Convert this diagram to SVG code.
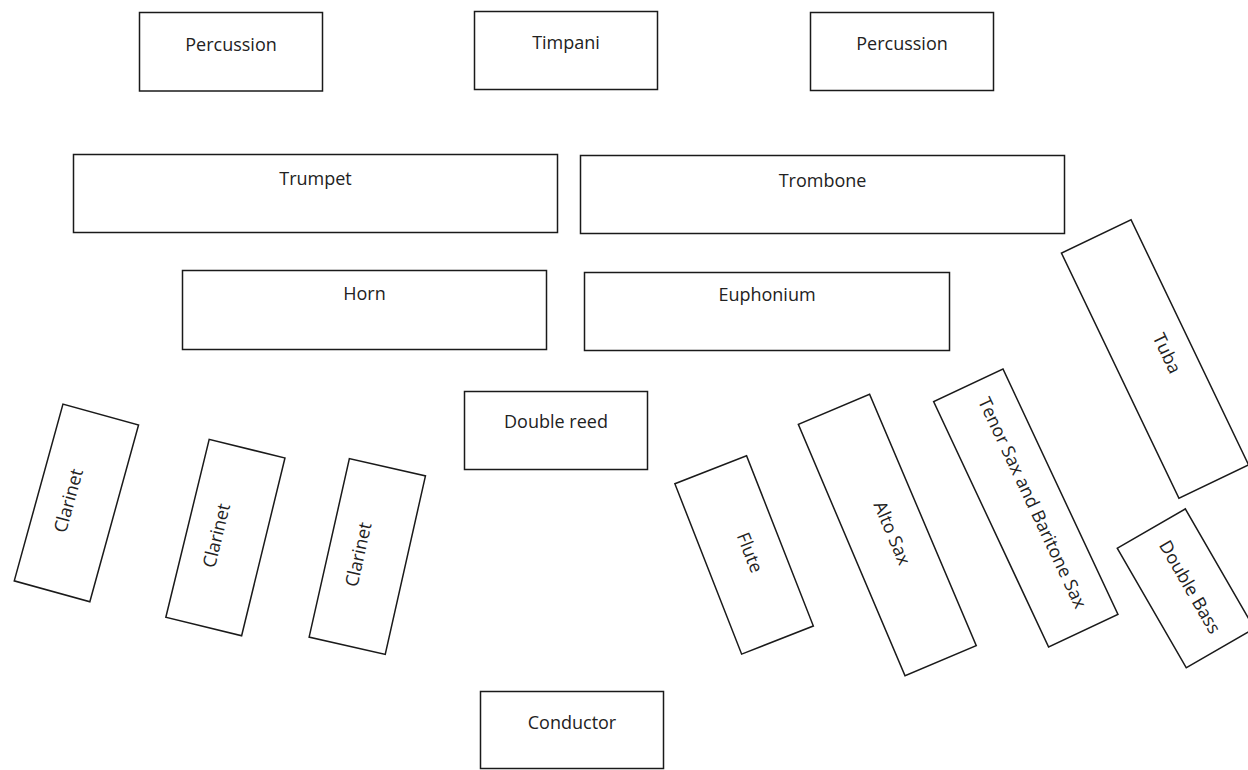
<svg xmlns="http://www.w3.org/2000/svg" width="1248" height="770" viewBox="0 0 1248 770">
<style>
  .box { fill: #ffffff; stroke: #1a1a1a; stroke-width: 1.5; }
  .lbl { font-family: "Open Sans", "Noto Sans", "DejaVu Sans", sans-serif; font-size: 18px; fill: #222222; text-anchor: middle; }
</style>
<rect x="0" y="0" width="1248" height="770" fill="#ffffff"/>
<g id="nodes">
  <g id="percussion-left"><rect class="box" x="139.5" y="12.5" width="183" height="78.5"/><text class="lbl" x="231" y="50.5">Percussion</text></g>
  <g id="timpani"><rect class="box" x="474.5" y="11.5" width="183" height="78"/><text class="lbl" x="566" y="49">Timpani</text></g>
  <g id="percussion-right"><rect class="box" x="810.5" y="12.5" width="183" height="78"/><text class="lbl" x="902" y="50">Percussion</text></g>
  <g id="trumpet"><rect class="box" x="73.5" y="154.5" width="484" height="78"/><text class="lbl" x="315.5" y="185">Trumpet</text></g>
  <g id="trombone"><rect class="box" x="580.5" y="155.5" width="484" height="78"/><text class="lbl" x="822.5" y="186.5">Trombone</text></g>
  <g id="horn"><rect class="box" x="182.5" y="270.5" width="364" height="79"/><text class="lbl" x="364.5" y="299.5">Horn</text></g>
  <g id="euphonium"><rect class="box" x="584.5" y="272.5" width="365" height="78"/><text class="lbl" x="767" y="300.5">Euphonium</text></g>
  <g id="double-reed"><rect class="box" x="464.5" y="391.5" width="183" height="78"/><text class="lbl" x="556" y="428">Double reed</text></g>
  <g id="conductor"><rect class="box" x="480.5" y="691.5" width="183" height="77"/><text class="lbl" x="572" y="728.5">Conductor</text></g>

  <g id="clarinet-1" transform="translate(76.4,502.9) rotate(-74.6)"><rect class="box" x="-91.7" y="-39.2" width="183.4" height="78.4"/><text class="lbl" x="0" y="-2">Clarinet</text></g>
  <g id="clarinet-2" transform="translate(225.4,537.6) rotate(-76.3)"><rect class="box" x="-91.5" y="-39" width="183" height="78"/><text class="lbl" x="0" y="-3">Clarinet</text></g>
  <g id="clarinet-3" transform="translate(367.3,556.5) rotate(-77.3)"><rect class="box" x="-91.5" y="-39" width="183" height="78"/><text class="lbl" x="0" y="-3">Clarinet</text></g>
  <g id="flute" transform="translate(744.1,554.9) rotate(68.6)"><rect class="box" x="-91.5" y="-38.5" width="183" height="77"/><text class="lbl" x="0" y="0">Flute</text></g>
  <g id="alto-sax" transform="translate(887.3,535) rotate(67)"><rect class="box" x="-136.5" y="-38.7" width="273" height="77.4"/><text class="lbl" x="0" y="1">Alto Sax</text></g>
  <g id="tenor-baritone-sax" transform="translate(1025.8,508) rotate(64.9)"><rect class="box" x="-135.5" y="-38.3" width="271" height="76.6"/><text class="lbl" x="-2" y="-2">Tenor Sax and Baritone Sax</text></g>
  <g id="tuba" transform="translate(1155,359) rotate(64.4)"><rect class="box" x="-136" y="-38.6" width="272" height="77.2"/><text class="lbl" x="0" y="-7">Tuba</text></g>
  <g id="double-bass" transform="translate(1185.8,588.3) rotate(60)"><rect class="box" x="-69" y="-39.3" width="138" height="78.6"/><text class="lbl" x="1" y="2">Double Bass</text></g>
</g>
<g id="connectors"></g>
</svg>
